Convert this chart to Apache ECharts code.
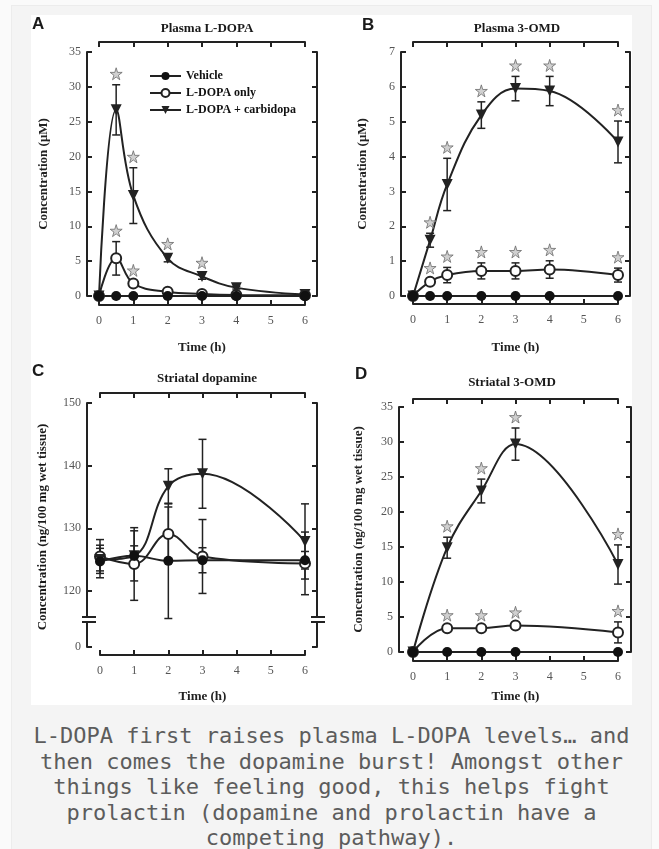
<!DOCTYPE html>
<html>
<head>
<meta charset="utf-8">
<script src="https://cdn.jsdelivr.net/npm/echarts@6/dist/echarts.min.js"></script>
<style>
  html, body { margin: 0; padding: 0; overflow: hidden; background: #fafafa; width: 659px; height: 849px; }
  .card { position: absolute; left: 11px; top: 5px; width: 641px; height: 860px; background: #f4f4f4;
          border: 1px solid #ececec; box-sizing: border-box; }
  #main { position: absolute; left: 31px; top: 15px; width: 601px; height: 690px; background: #fff; }
  .caption { position: absolute; left: 11px; top: 723px; width: 641px; text-align: center; white-space: nowrap;
             font-family: "DejaVu Sans Mono", monospace; font-size: 22px; line-height: 25.5px; color: #5c5c5c; }
</style>
</head>
<body>
<div class="card"></div>
<div id="main"></div>
<div class="caption">L-DOPA first raises plasma L-DOPA levels… and<br>then comes the dopamine burst! Amongst other<br>things like feeling good, this helps fight<br>prolactin (dopamine and prolactin have a<br>competing pathway).</div>
<script>
// time points (h)
var timeAB = [0, 0.5, 1, 2, 3, 4, 6];
var timeCD = [0, 1, 2, 3, 6];

// A: plasma L-DOPA (uM)
var aVehicle    = [0, 0, 0, 0, 0, 0, 0];
var aLdopa      = [0, 5.4, 1.8, 0.6, 0.3, 0.15, 0.1];
var aLdopaErr   = [0, 2.4, 0.3, 0.1, 0.1, 0, 0];
var aCarbi      = [0, 26.7, 14.4, 5.4, 2.8, 1.2, 0.2];
var aCarbiErr   = [0, 3.6, 4.0, 0.5, 0.4, 0.2, 0];
var aLdopaSig   = [0, 1, 1, 0, 0, 0, 0];
var aCarbiSig   = [0, 1, 1, 1, 1, 0, 0];

// B: plasma 3-OMD (uM)
var bVehicle    = [0, 0, 0, 0, 0, 0, 0];
var bLdopa      = [0, 0.41, 0.6, 0.72, 0.72, 0.76, 0.6];
var bLdopaErr   = [0, 0.08, 0.22, 0.23, 0.23, 0.25, 0.2];
var bCarbi      = [0, 1.6, 3.2, 5.19, 5.95, 5.88, 4.42];
var bCarbiErr   = [0, 0.2, 0.75, 0.38, 0.35, 0.42, 0.6];
var bLdopaSig   = [0, 1, 1, 1, 1, 1, 1];
var bCarbiSig   = [0, 1, 1, 1, 1, 1, 1];

// C: striatal dopamine (ng/100 mg wet tissue)
var cVehicle    = [124.7, 125.6, 124.8, 124.9, 124.9];
var cVehicleErr = [2.6, 1.6, 9.2, 2.0, 1.4];
var cLdopa      = [125.5, 124.3, 129.1, 125.5, 124.4];
var cLdopaErr   = [2.7, 5.8, 4.3, 5.9, 5.0];
var cCarbi      = [125.0, 125.6, 136.7, 138.7, 127.9];
var cCarbiErr   = [1.8, 4.0, 2.8, 5.5, 6.0];

// D: striatal 3-OMD (ng/100 mg wet tissue)
var dVehicle    = [0, 0, 0, 0, 0];
var dLdopa      = [0, 3.4, 3.4, 3.8, 2.8];
var dLdopaErr   = [0, 0.3, 0.3, 0.3, 1.5];
var dCarbi      = [0, 14.9, 23.0, 29.7, 12.5];
var dCarbiErr   = [0, 1.5, 1.7, 2.3, 2.8];
var dLdopaSig   = [0, 1, 1, 1, 1];
var dCarbiSig   = [0, 1, 1, 1, 1];

var cTicks = [120, 130, 140, 150];
var names = ['Vehicle', 'L-DOPA only', 'L-DOPA + carbidopa'];

var INK = '#222';
var TXT = '#555';
var SERIF = 'Liberation Serif';
var STAR = 'path://M50,0 L61,35 L98,35 L68,57 L79,91 L50,70 L21,91 L32,57 L2,35 L39,35 Z';

var myChart = echarts.init(document.getElementById('main'));

function pts(t, v) { return t.map(function (x, i) { return [x, v[i]]; }); }
function errPts(t, v, e) {
  var out = [];
  t.forEach(function (x, i) { if (e[i] > 0) out.push([x, v[i], e[i]]); });
  return out;
}
function sigPts(t, v, e, s) {
  var out = [];
  t.forEach(function (x, i) { if (s[i]) out.push([x, v[i] + e[i]]); });
  return out;
}

var nameStyle = { fontFamily: SERIF, fontWeight: 'bold', fontSize: 13, color: '#222' };

function xAx(grid, pos, off, labels, name, gap) {
  return {
    type: 'value', gridIndex: grid, position: pos, offset: off, min: 0, max: 6, interval: 1,
    axisLine: { onZero: false, lineStyle: { color: INK, width: 2 } },
    axisTick: { inside: true, length: 5, lineStyle: { color: INK, width: 2 } },
    splitLine: { show: false },
    axisLabel: { show: labels, margin: 10, color: TXT, fontFamily: SERIF, fontSize: 12 },
    name: name || '', nameLocation: 'middle', nameGap: gap || 0, nameTextStyle: nameStyle
  };
}
function yAx(grid, pos, off, min, max, interval, labels, custom, name, gap) {
  var ax = {
    type: 'value', gridIndex: grid, position: pos, offset: off, min: min, max: max,
    axisLine: { onZero: false, lineStyle: { color: INK, width: 2 } },
    axisTick: { inside: true, length: 5, lineStyle: { color: INK, width: 2 } },
    splitLine: { show: false },
    axisLabel: { show: labels, margin: 6, color: TXT, fontFamily: SERIF, fontSize: 12 },
    name: name || '', nameLocation: 'middle', nameGap: gap || 0, nameRotate: 90, nameTextStyle: nameStyle
  };
  if (interval) ax.interval = interval;
  if (custom) { ax.axisTick.customValues = custom; ax.axisLabel.customValues = custom; }
  return ax;
}

function renderErr(params, api) {
  var x = api.value(0), y = api.value(1), e = api.value(2);
  var hi = api.coord([x, y + e]);
  var lo = api.coord([x, y - e]);
  var w = 4;
  var st = { stroke: INK, lineWidth: 1.5 };
  return {
    type: 'group', children: [
      { type: 'line', shape: { x1: hi[0], y1: hi[1], x2: lo[0], y2: lo[1] }, style: st },
      { type: 'line', shape: { x1: hi[0] - w, y1: hi[1], x2: hi[0] + w, y2: hi[1] }, style: st },
      { type: 'line', shape: { x1: lo[0] - w, y1: lo[1], x2: lo[0] + w, y2: lo[1] }, style: st }
    ]
  };
}

var series = [];
function panel(xi, yi, t, veh, vehErr, ld, ldErr, cb, cbErr, ldSig, cbSig) {
  var groups = [
    { name: names[1], v: ld, e: ldErr, sym: 'circle', size: 10, rot: 0, item: { color: '#fff', borderColor: INK, borderWidth: 2 }, z: 3 },
    { name: names[2], v: cb, e: cbErr, sym: 'triangle', size: 11, rot: 180, item: { color: INK }, z: 4 },
    { name: names[0], v: veh, e: vehErr, sym: 'circle', size: 10, rot: 0, item: { color: '#111' }, z: 5 }
  ];
  groups.forEach(function (g) {
    if (g.e) {
      series.push({
        type: 'custom', xAxisIndex: xi, yAxisIndex: yi, renderItem: renderErr,
        data: errPts(t, g.v, g.e), z: 2, silent: true
      });
    }
    series.push({
      type: 'line', name: g.name, xAxisIndex: xi, yAxisIndex: yi, data: pts(t, g.v),
      smooth: 0.4, clip: false, symbol: g.sym, symbolSize: g.size, symbolRotate: g.rot, showAllSymbol: true,
      lineStyle: { color: INK, width: 2 }, itemStyle: g.item, z: g.z, silent: true
    });
  });
  [[ld, ldErr, ldSig], [cb, cbErr, cbSig]].forEach(function (s) {
    if (!s[2]) return;
    series.push({
      type: 'scatter', xAxisIndex: xi, yAxisIndex: yi, data: sigPts(t, s[0], s[1], s[2]),
      symbol: STAR, symbolSize: 12, symbolOffset: [0, -11], clip: false,
      itemStyle: { color: '#c4c4c4', borderColor: '#6a6a6a', borderWidth: 1 }, z: 6, silent: true
    });
  });
}

panel(0, 0, timeAB, aVehicle, null, aLdopa, aLdopaErr, aCarbi, aCarbiErr, aLdopaSig, aCarbiSig);
panel(2, 2, timeAB, bVehicle, null, bLdopa, bLdopaErr, bCarbi, bCarbiErr, bLdopaSig, bCarbiSig);
panel(4, 4, timeCD, cVehicle, cVehicleErr, cLdopa, cLdopaErr, cCarbi, cCarbiErr, null, null);
panel(6, 8, timeCD, dVehicle, null, dLdopa, dLdopaErr, dCarbi, dCarbiErr, dLdopaSig, dCarbiSig);

function txt(x, y, s, font, align, rot) {
  return {
    type: 'text', x: x, y: y, rotation: rot || 0, silent: true,
    style: { text: s, font: font, fill: '#1a1a1a', textAlign: align || 'center', textVerticalAlign: 'middle' }
  };
}
function seg(x1, y1, x2, y2) {
  return { type: 'line', silent: true, shape: { x1: x1, y1: y1, x2: x2, y2: y2 }, style: { stroke: INK, lineWidth: 2 } };
}
var LETTER = 'bold 17px "Liberation Sans"';
var TITLE = 'bold 13px "Liberation Serif"';

var option = {
  animation: false,
  backgroundColor: '#fff',
  grid: [
    { left: 68, top: 37, width: 206, height: 244 },
    { left: 382, top: 37, width: 205, height: 244 },
    { left: 69, top: 388, width: 205, height: 213 },
    { left: 69, top: 607, width: 205, height: 25 },
    { left: 382, top: 392, width: 205, height: 245 }
  ],
  legend: {
    data: names, orient: 'vertical', left: 113, top: 50, itemWidth: 31, itemHeight: 10, itemGap: 5,
    selectedMode: false,
    textStyle: { fontFamily: SERIF, fontWeight: 'bold', fontSize: 12, color: '#111' }
  },
  xAxis: [
    xAx(0, 'bottom', 9, true, 'Time (h)', 36),
    xAx(0, 'top', 10, false),
    xAx(1, 'bottom', 8, true, 'Time (h)', 37),
    xAx(1, 'top', 10, false),
    xAx(2, 'top', 10, false),
    xAx(3, 'bottom', 8, true, 'Time (h)', 35),
    xAx(4, 'bottom', 9, true, 'Time (h)', 29),
    xAx(4, 'top', 8, false)
  ],
  yAxis: [
    yAx(0, 'left', 12, 0, 35, 5, true, null, 'Concentration (μM)', 37),
    yAx(0, 'right', 12, 0, 35, 5, false),
    yAx(1, 'left', 12, 0, 7, 1, true, null, 'Concentration (μM)', 32),
    yAx(1, 'right', 12, 0, 7, 1, false),
    yAx(2, 'left', 13, 116, 150, null, true, cTicks),
    yAx(2, 'right', 12, 116, 150, null, false, cTicks),
    yAx(3, 'left', 13, 0, 4, null, true, [0]),
    yAx(3, 'right', 12, 0, 4, null, false, [0]),
    yAx(4, 'left', 14, 0, 35, 5, true, null, 'Concentration (ng/100 mg wet tissue)', 34),
    yAx(4, 'right', 13, 0, 35, 5, false)
  ],
  graphic: [
    txt(1, 9, 'A', LETTER, 'left'),
    txt(331, 10, 'B', LETTER, 'left'),
    txt(1, 356, 'C', LETTER, 'left'),
    txt(324, 359, 'D', LETTER, 'left'),
    txt(176, 14, 'Plasma L-DOPA', TITLE),
    txt(486, 14, 'Plasma 3-OMD', TITLE),
    txt(176, 364, 'Striatal dopamine', TITLE),
    txt(481, 368, 'Striatal 3-OMD', TITLE),
    txt(12, 512, 'Concentration (ng/100 mg wet tissue)', TITLE, 'center', Math.PI / 2),
    // axis break marks on panel C
    seg(51, 602, 65, 602), seg(51, 607, 65, 607),
    seg(280, 602, 294, 602), seg(280, 607, 294, 607)
  ],
  series: series
};

myChart.setOption(option);
</script>
</body>
</html>
